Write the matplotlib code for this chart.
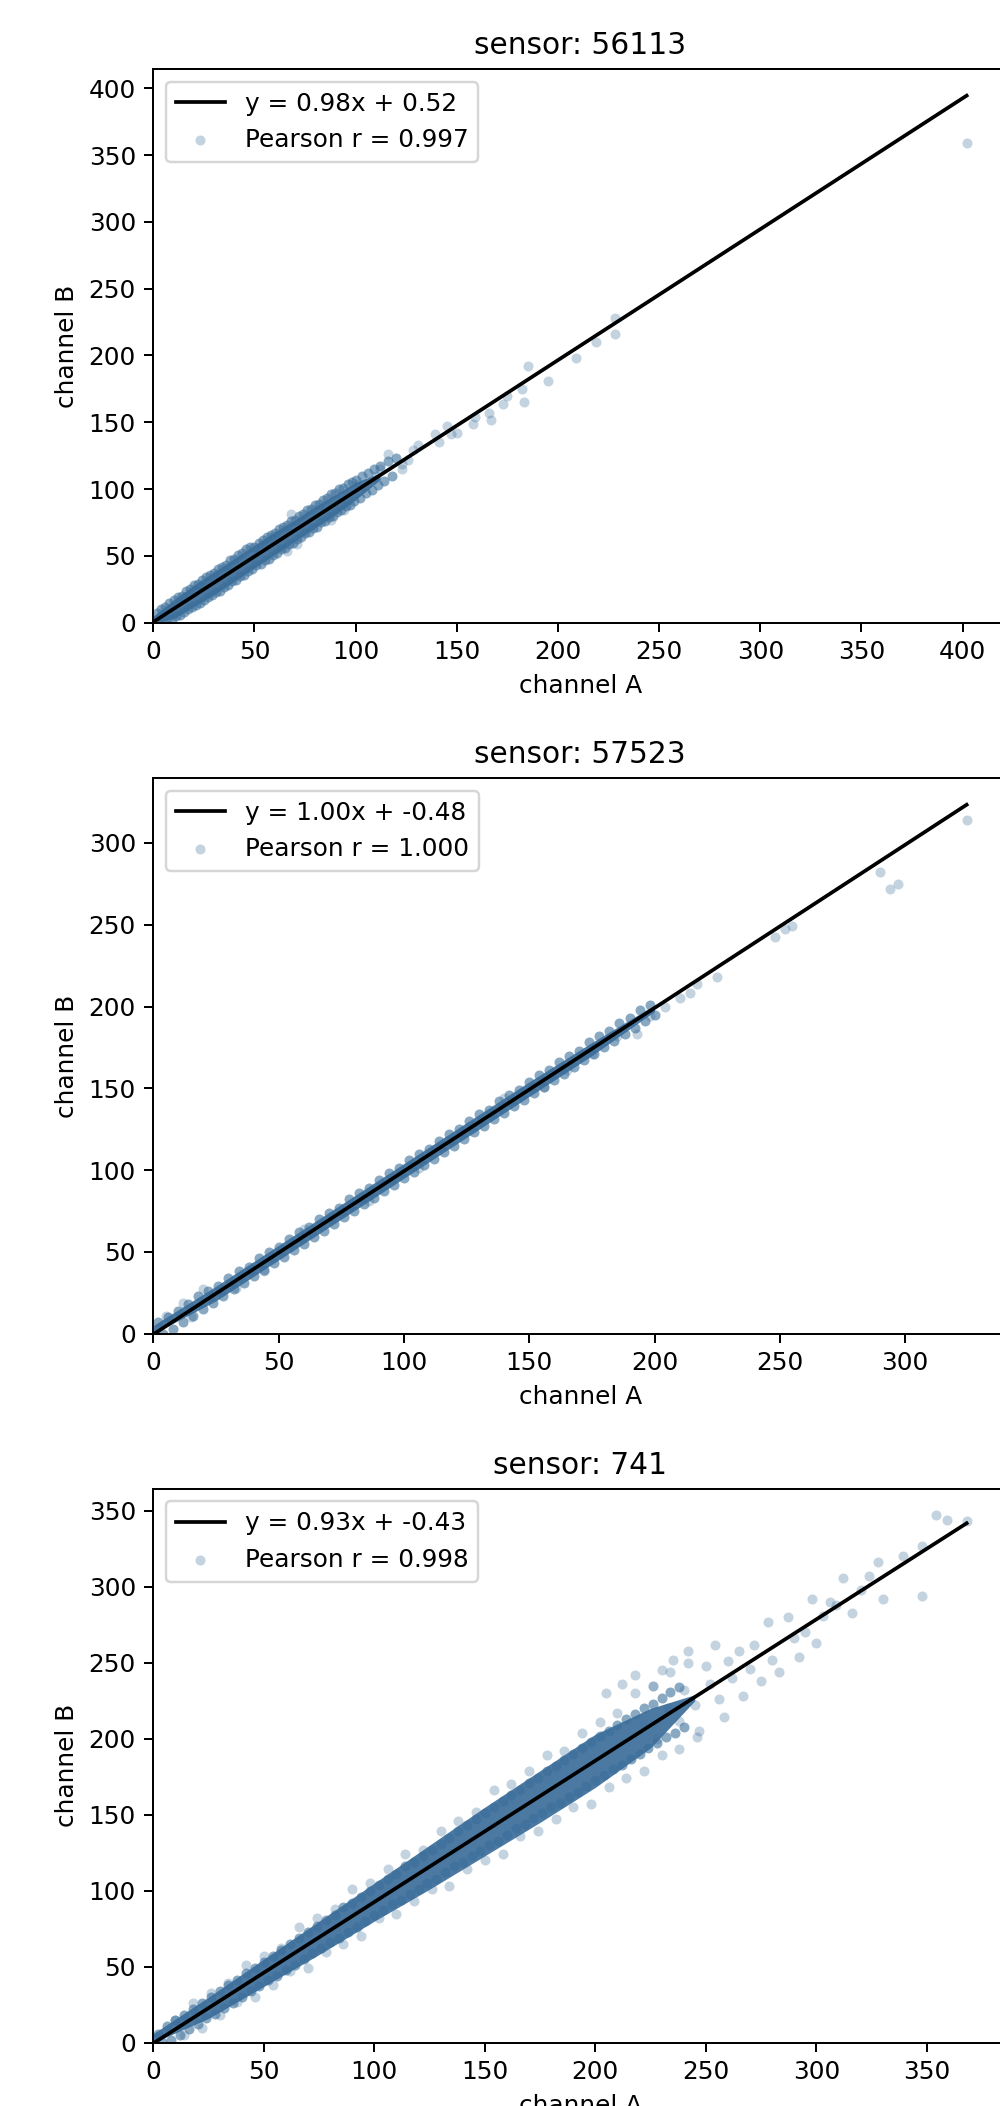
import matplotlib
matplotlib.use("Agg")
import matplotlib.pyplot as plt

# ---------------- data ----------------
sensors = ["56113", "57523", "741"]
slopes = [0.98, 0.998, 0.93]
intercepts = [0.52, -0.48, -0.43]
pearson = [0.997, 1.000, 0.998]

# dense core of each cloud (channel A, lower / upper channel B)
core_x1 = [0, 10, 20, 30, 40, 50, 60, 70, 80, 90, 100, 112]
core_lo1 = [0, 3, 12, 21, 31, 41, 51, 61, 71, 81, 92, 107]
core_hi1 = [5, 17, 28, 38, 48, 58, 68, 77, 87, 96, 105, 112]

core_x2 = [0, 25, 50, 75, 100, 125, 150, 175, 200]
core_lo2 = [0, 20, 45, 70, 95, 120, 145, 170, 197]
core_hi2 = [5, 29, 54, 79, 104, 129, 154, 178, 201]

core_x3 = [0, 25, 50, 75, 100, 125, 150, 175, 200, 225, 245]
core_lo3 = [0, 16, 37, 58, 80, 101, 123, 145, 168, 194, 225]
core_hi3 = [6, 30, 55, 80, 105, 130, 155, 179, 203, 220, 229]

# crowded readings along the edges of each core (channel A, channel B)
edge_a1 = [2, 4, 6, 8, 10, 12, 14, 16, 18, 20, 22, 24, 26, 28, 30, 32, 34, 36, 38, 40,
           42, 44, 46, 48, 50, 52, 54, 56, 58, 60, 62, 64, 66, 68, 70, 72, 74, 76, 78, 80,
           82, 84, 86, 88, 90, 92, 94, 96, 98, 100, 103, 106, 109, 112, 116, 120,
           3, 5, 7, 9, 11, 13, 15, 17, 19, 21, 23, 25, 27, 29, 31, 33, 35, 37, 39, 41,
           43, 45, 47, 49, 51, 53, 55, 57, 59, 61, 63, 65, 67, 69, 71, 73, 75, 77, 79, 81,
           83, 85, 87, 89, 91, 93, 95, 97, 99, 102, 105, 108, 111, 114, 118]
edge_b1 = [7.5, 10, 12, 15, 17, 19, 20, 24, 25, 28, 29, 32, 34, 36, 37, 40, 42, 43, 47, 48,
           51, 52, 55, 57, 57, 60, 62, 64, 66, 67, 70, 72, 73, 76, 77, 80, 81, 84, 85, 88,
           89, 92, 93, 96, 97, 100, 101, 104, 105, 107, 110, 112, 115, 117, 121, 123,
           0, 0.5, 2, 3, 5, 6, 8, 10, 12, 13, 15, 17, 19, 21, 23, 24, 27, 28, 31, 32,
           35, 36, 39, 40, 43, 44, 47, 48, 51, 52, 55, 56, 59, 60, 63, 64, 67, 68, 71, 72,
           75, 76, 79, 80, 83, 84, 87, 88, 91, 93, 97, 99, 103, 106, 110]

edge_a2 = [2, 6, 10, 14, 18, 22, 26, 30, 34, 38, 42, 46, 50, 54, 58, 62, 66, 70, 74, 78,
           82, 86, 90, 94, 98, 102, 106, 110, 114, 118, 122, 126, 130, 134, 138, 142, 146, 150,
           154, 158, 162, 166, 170, 174, 178, 182, 186, 190, 194, 198,
           4, 8, 12, 16, 20, 24, 28, 32, 36, 40, 44, 48, 52, 56, 60, 64, 68, 72, 76, 80,
           84, 88, 92, 96, 100, 104, 108, 112, 116, 120, 124, 128, 132, 136, 140, 144, 148, 152,
           156, 160, 164, 168, 172, 176, 180, 184, 188, 192, 196, 200]
edge_b2 = [7, 10, 14, 18, 23, 26, 29, 34, 38, 41, 46, 50, 53, 58, 62, 65, 70, 74, 77, 82,
           86, 89, 94, 98, 101, 106, 110, 113, 118, 122, 125, 130, 134, 137, 142, 146, 149, 154,
           158, 161, 166, 170, 173, 178, 182, 185, 190, 193, 198, 201,
           0, 3, 7, 11, 15, 19, 23, 27, 31, 35, 39, 43, 47, 51, 55, 59, 63, 67, 71, 75,
           79, 83, 87, 91, 95, 99, 103, 107, 111, 115, 119, 123, 127, 131, 135, 139, 143, 147,
           151, 155, 159, 163, 167, 171, 175, 179, 183, 187, 191, 195]

edge_a3 = [2, 6, 10, 14, 18, 22, 26, 30, 34, 38, 42, 46, 50, 54, 58, 62, 66, 70, 74, 78,
           82, 86, 90, 94, 98, 102, 106, 110, 114, 118, 122, 126, 130, 134, 138, 142, 146, 150,
           154, 158, 162, 166, 170, 174, 178, 182, 186, 190, 194, 198, 202, 206, 210, 214, 218,
           222, 226, 230, 234, 238,
           4, 8, 12, 16, 20, 24, 28, 32, 36, 40, 44, 48, 52, 56, 60, 64, 68, 72, 76, 80,
           84, 88, 92, 96, 100, 104, 108, 112, 116, 120, 124, 128, 132, 136, 140, 144, 148, 152,
           156, 160, 164, 168, 172, 176, 180, 184, 188, 192, 196, 200, 204, 208, 212, 216, 220,
           224, 228, 232, 236, 240]
edge_b3 = [6, 11, 15, 18, 22, 26, 30, 34, 38, 41, 46, 49, 53, 57, 61, 65, 69, 73, 77, 81,
           84, 89, 92, 96, 100, 104, 108, 111, 116, 119, 123, 127, 131, 135, 139, 143, 147, 151,
           155, 159, 163, 166, 171, 174, 179, 182, 186, 190, 194, 198, 202, 205, 209, 213, 216,
           220, 223, 227, 231, 234,
           0.5, 1.5, 5, 9, 12, 16, 19, 23, 26, 30, 34, 37, 41, 44, 48, 51, 55, 59, 62, 66,
           69, 73, 76, 80, 84, 87, 91, 94, 98, 101, 105, 108, 112, 116, 119, 123, 126, 130,
           133, 137, 141, 144, 148, 151, 155, 158, 162, 165, 169, 173, 176, 180, 183, 187, 190,
           194, 197, 201, 204, 208]

# scattered single readings (channel A, channel B)
pts_a1 = [66, 68, 71, 88, 94.5, 101, 110, 112, 116, 123, 123, 126, 128.5, 131, 139, 141, 145,
          147, 150, 158, 159, 166, 167, 173, 175, 182, 183, 185, 195, 209, 219, 228, 228, 402]
pts_b1 = [54, 81.5, 59, 77, 84, 104, 110, 115, 126, 115, 119, 122, 129, 133, 141, 135, 147,
          141, 142, 149, 154, 157, 152, 164, 170, 175, 165, 192, 181, 198, 210, 216, 228, 359]

pts_a2 = [5, 12, 15, 20, 33, 44, 60, 86, 106, 140, 156, 165, 175, 185,
          193, 198, 204, 210, 214, 217, 225, 248, 252, 255, 290, 294, 297, 324.5]
pts_b2 = [11, 19, 10, 27, 28, 38, 64, 81, 101, 144, 151, 161, 171, 182,
          183, 194, 200, 205.5, 208, 214, 218, 242.5, 247.5, 249, 282, 272, 275, 314]

pts_a3 = [10, 18, 26, 34, 42, 50, 58, 66, 74, 82, 90, 98, 106, 114, 122, 130, 138, 146, 154,
          162, 170, 178, 186, 194, 202, 210, 218, 226, 234, 242,
          14, 22, 30, 38, 46, 54, 62, 70, 78, 86, 94, 102, 110, 118, 126, 134, 142, 150, 158,
          166, 174, 182, 190, 198, 206, 214, 222, 230, 238, 246,
          205, 212, 218, 222, 226, 228, 230, 233, 235, 238, 240, 242, 245, 247, 250, 252, 254,
          256, 258, 260, 262, 265, 267, 270, 272, 275, 278, 280, 283, 287, 290, 292, 295, 298,
          300, 303, 306, 309, 312, 316, 320, 324, 328, 330, 339, 348, 348, 354, 359, 368]
pts_b3 = [15, 26, 33, 39, 51, 57, 62, 76, 82, 88, 101, 105, 114, 124, 127, 139, 146, 152, 166,
          170, 179, 189, 192, 204, 211, 217, 230, 235, 244, 250,
          5, 10, 18, 27, 30, 38, 47, 49, 60, 65, 70, 82, 85, 93, 101, 103, 114, 120, 124,
          136, 139, 147, 155, 157, 168, 174, 179, 189, 193, 201,
          230, 236, 242, 210, 235, 200, 245, 220, 252, 212, 232, 258, 222, 205, 248, 236, 262,
          226, 214, 251, 240, 258, 228, 246, 262, 238, 277, 252, 244, 280, 266, 254, 270, 292,
          263, 281, 290, 288, 306, 283, 298, 307, 316, 292, 320, 327, 294, 347, 344, 343]

cores = [(core_x1, core_lo1, core_hi1), (core_x2, core_lo2, core_hi2), (core_x3, core_lo3, core_hi3)]
edges = [(edge_a1, edge_b1), (edge_a2, edge_b2), (edge_a3, edge_b3)]
points = [(pts_a1, pts_b1), (pts_a2, pts_b2), (pts_a3, pts_b3)]

# ---------------- style ----------------
S = 1.78
plt.rcParams.update({
    "font.family": ["DejaVu Sans"],
    "font.size": 10 * S,
    "axes.linewidth": 0.8 * S,
    "xtick.major.width": 0.8 * S,
    "ytick.major.width": 0.8 * S,
    "xtick.major.size": 3.5 * S,
    "ytick.major.size": 3.5 * S,
    "xtick.major.pad": 3.5 * S,
    "ytick.major.pad": 3.5 * S,
    "axes.titlepad": 6 * S,
    "axes.labelpad": 4 * S,
    "lines.linewidth": 1.5 * S,
    "patch.linewidth": 1.0 * S,
})

POINT_COLOR = "#3b6e9a"
W, H = 1000, 2106
fig = plt.figure(figsize=(W / 100, H / 100), dpi=100)

left_px, width_px = 153.3, 854
tops = [69.3, 778.3, 1489.0]
bottoms = [622.7, 1333.6, 2042.7]

for i in range(3):
    ax = fig.add_axes([left_px / W, 1 - bottoms[i] / H, width_px / W, (bottoms[i] - tops[i]) / H])
    cx, clo, chi = cores[i]
    ea, eb = edges[i]
    pa, pb = points[i]
    ax.fill_between(cx, clo, chi, color=POINT_COLOR, alpha=0.92, linewidth=0, zorder=1)
    ax.scatter(ea, eb, s=52, color=POINT_COLOR, alpha=0.6, linewidths=0, zorder=2)
    sc = ax.scatter(pa, pb, s=52, color=POINT_COLOR, alpha=0.3, linewidths=0, zorder=2)
    xmax = max(max(pa), max(cx), max(ea))
    fx = [0, xmax]
    fy = [slopes[i] * v + intercepts[i] for v in fx]
    ln, = ax.plot(fx, fy, color="black", zorder=3)
    ymax = max(max(pb), max(fy), max(chi), max(eb))
    ax.set_xlim(0, 1.05 * xmax)
    ax.set_ylim(0, 1.05 * ymax)
    ax.set_title(f"sensor: {sensors[i]}")
    ax.set_xlabel("channel A")
    ax.set_ylabel("channel B")
    ax.legend([ln, sc], [f"y = {slopes[i]:.2f}x + {intercepts[i]:.2f}", f"Pearson r = {pearson[i]:.3f}"],
              loc="upper left")

fig.savefig("out.png", dpi=100)
